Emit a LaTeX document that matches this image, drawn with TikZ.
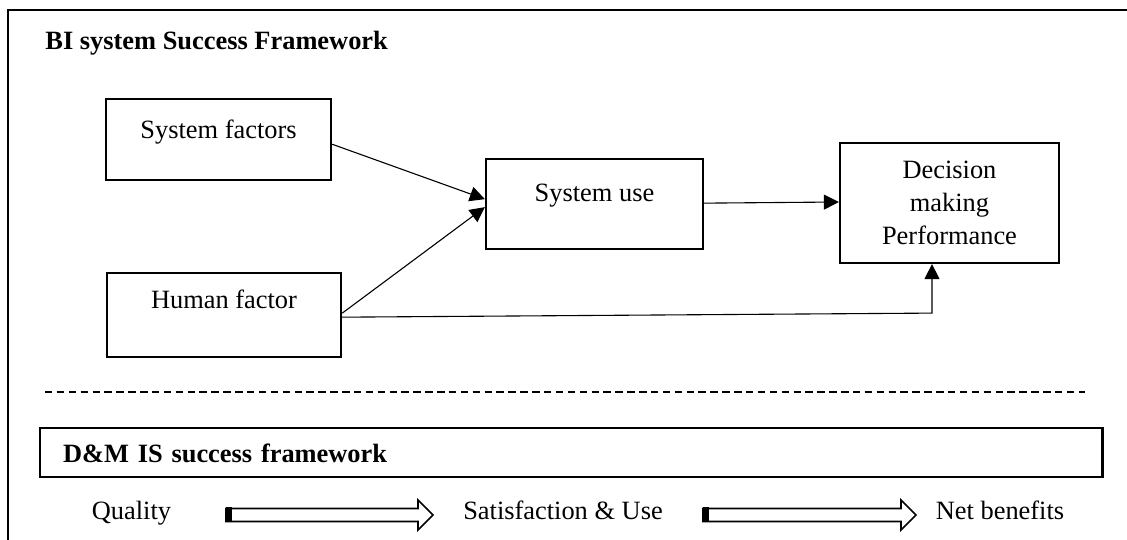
\documentclass[tikz,border=0pt]{standalone}
\usepackage{fontspec}
\setmainfont{Liberation Serif}
\usetikzlibrary{arrows.meta,calc}
\begin{document}
\begin{tikzpicture}[
  x=0.4545pt, y=-0.4545pt,
  every node/.style={font=\fontsize{12}{14.9}\selectfont},
  frame/.style={draw, line width=1.25pt},
  box/.style={draw, line width=1.05pt, inner sep=0pt, anchor=north},
  conn/.style={line width=0.5pt, -{Triangle[length=6.8pt,width=6.8pt]}},
  sep/.style={line width=1.1pt, dash pattern=on 3.4pt off 2pt},
  fat/.style={draw, line width=0.75pt, fill=white},
  lbl/.style={inner sep=0pt, anchor=base}
]
\useasboundingbox (0,0) rectangle (1127,540);
\clip (0,0) rectangle (1127,540);

% outer frame (runs off the page on the right and bottom)
\draw[frame] (8,10) rectangle (1170,590);

% upper part: BI system framework
\node[lbl, anchor=base west, font=\fontsize{12}{14.9}\selectfont\bfseries] (title) at (45,50) {BI system Success Framework};

\node[box, minimum width=102.3pt, text height=17.9pt, text depth=19pt] (sysf) at (218.5,98) {System factors};
\node[box, minimum width=98.6pt, text height=19.4pt, text depth=21.5pt] (sysuse) at (594.5,158) {System use};
\node[box, minimum width=106.4pt, text height=16.2pt, text depth=22pt] (human) at (224,272) {Human factor};
\node[draw, line width=1.05pt, minimum width=99.5pt, minimum height=54.5pt, inner sep=0pt, align=center] (dec) at (949.5,203) {Decision\\making\\Performance};

\draw[conn] ($(sysf.east)+(0,4.5)$) -- ($(sysuse.west)+(0,-5)$);
\draw[conn] ($(human.east)+(0,-2)$) -- ($(sysuse.west)+(0,3)$);
\draw[conn] ($(sysuse.east)+(0,-1)$) -- ($(dec.west)+(0,-1)$);
\draw[conn] ($(human.east)+(0,2)$) -- ($(dec.south)+(-17.5,49)$) -- ($(dec.south)+(-17.5,0)$);

% separator
\draw[sep] (45,392) -- (1085,392);

% lower part: D&M framework
\node[draw, line width=0.95pt, anchor=north west, inner xsep=10.45pt, inner ysep=0pt,
      text width=462pt, align=left, text height=15.8pt, text depth=6.5pt,
      font=\fontsize{12}{14.9}\selectfont\bfseries] (dm) at (39,427) {D\&M IS success framework};

\node[lbl] (qual) at (131.5,520) {Quality};
\node[lbl] (sat) at (563,520) {Satisfaction \& Use};
\node[lbl] (net) at (1000,520) {Net benefits};

% hollow block arrows between the stages
\coordinate (a1s) at (226,515);
\coordinate (a1e) at (433,515);
\coordinate (a2s) at (703,515);
\coordinate (a2e) at (916,515);
\foreach \s/\e in {a1s/a1e, a2s/a2e} {
  \draw[fat] ($(\s)+(0,-6.5)$) -- ($(\e)+(-15,-6.5)$) -- ($(\e)+(-15,-15)$) -- (\e)
     -- ($(\e)+(-15,15)$) -- ($(\e)+(-15,6.5)$) -- ($(\s)+(0,6.5)$) -- cycle;
  \fill ($(\s)+(0,-7.5)$) rectangle ($(\s)+(6,7.5)$);
}
\end{tikzpicture}
\end{document}
